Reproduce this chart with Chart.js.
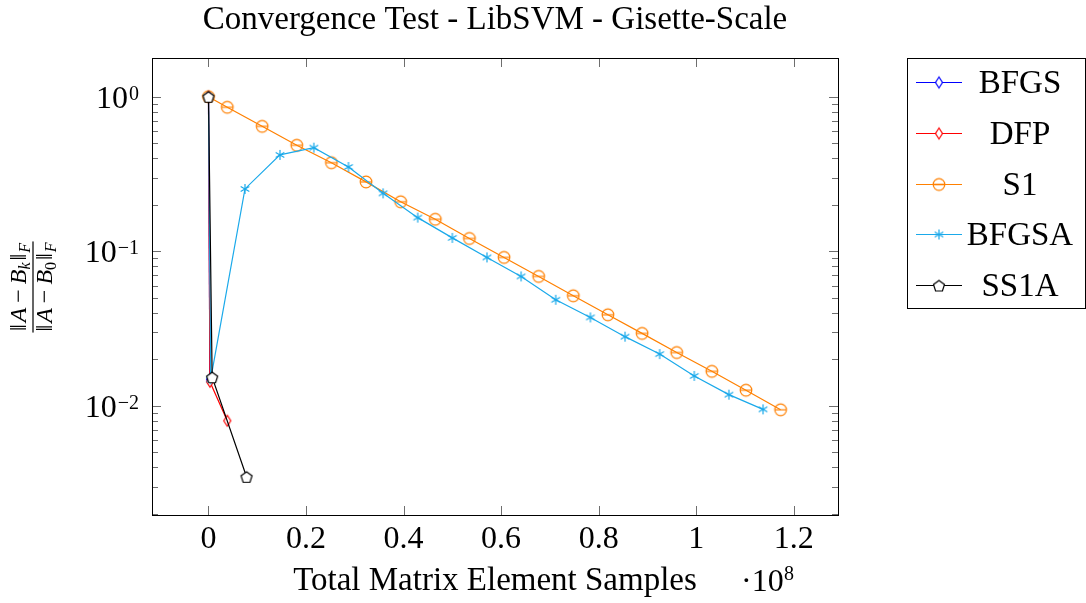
<!DOCTYPE html>
<html>
<head>
<meta charset="utf-8">
<script src="https://cdn.jsdelivr.net/npm/chart.js@4"></script>
<style>
html,body{margin:0;padding:0;background:#fff;}
#c{display:block;}
</style>
</head>
<body>
<canvas id="c" width="1086" height="603"></canvas>
<script>
// ---------- data (x in units of 1e8) ----------
const xTickValues = [0, 0.2, 0.4, 0.6, 0.8, 1, 1.2];
const xTickLabels = ['0', '0.2', '0.4', '0.6', '0.8', '1', '1.2'];
const yTickValues = [1, 0.1, 0.01];
const yTickExponents = ['0', '\u22121', '\u22122'];

const seriesNames = ['BFGS', 'DFP', 'S1', 'BFGSA', 'SS1A'];

const bfgsX = [0, 0.003];
const bfgsY = [1, 0.0148];

const dfpX = [0, 0.003, 0.0385];
const dfpY = [1, 0.0143, 0.0080];

const s1X = [0, 0.0385, 0.110, 0.181, 0.252, 0.323, 0.394, 0.465, 0.535, 0.606, 0.677, 0.748, 0.819, 0.889, 0.960, 1.032, 1.102, 1.173];
const s1Y = [1, 0.854, 0.643, 0.485, 0.374, 0.281, 0.209, 0.161, 0.121, 0.0912, 0.0687, 0.0515, 0.0388, 0.0294, 0.0221, 0.0167, 0.0126, 0.00942];

const bfgsaX = [0, 0.0045, 0.0748, 0.1466, 0.216, 0.287, 0.358, 0.429, 0.500, 0.571, 0.641, 0.712, 0.783, 0.854, 0.925, 0.996, 1.067, 1.137];
const bfgsaY = [1, 0.0148, 0.253, 0.420, 0.468, 0.351, 0.237, 0.165, 0.122, 0.0912, 0.0687, 0.0485, 0.0373, 0.0280, 0.0216, 0.0156, 0.0118, 0.00948];

const ss1aX = [0, 0.0075, 0.078];
const ss1aY = [1, 0.0153, 0.00347];

// ---------- styles ----------
const FONT = '"Liberation Serif", "Times New Roman", serif';
const COLORS = { BFGS: '#0000ff', DFP: '#ff0000', S1: '#ff8000', BFGSA: '#1aa9ea', SS1A: '#000000' };

function makeMark(kind, color) {
  const c = document.createElement('canvas');
  const s = 16;
  c.width = s; c.height = s;
  const g = c.getContext('2d');
  g.strokeStyle = color;
  g.lineWidth = 1.2;
  const m = s / 2;
  g.beginPath();
  if (kind === 'diamond') {
    g.moveTo(m, m - 5.5); g.lineTo(m + 3.5, m); g.lineTo(m, m + 5.5); g.lineTo(m - 3.5, m); g.closePath();
    g.fillStyle = '#fff'; g.fill(); g.stroke();
  } else if (kind === 'circle') {
    g.arc(m, m, 5.8, 0, Math.PI * 2);
    g.stroke();
    g.beginPath(); g.moveTo(m - 5.8, m); g.lineTo(m + 5.8, m); g.stroke();
  } else if (kind === 'star') {
    for (let k = 0; k < 3; k++) {
      const a = Math.PI / 2 + k * Math.PI * 2 / 3;
      g.moveTo(m + 5 * Math.cos(a), m - 5 * Math.sin(a));
      g.lineTo(m - 5 * Math.cos(a), m + 5 * Math.sin(a));
    }
    g.stroke();
  } else if (kind === 'pentagon') {
    for (let k = 0; k < 5; k++) {
      const a = Math.PI / 2 + k * Math.PI * 2 / 5;
      const px = m + 5.8 * Math.cos(a), py = m + 0.8 - 5.8 * Math.sin(a);
      if (k === 0) g.moveTo(px, py); else g.lineTo(px, py);
    }
    g.closePath();
    g.fillStyle = '#fff'; g.fill(); g.stroke();
  }
  return c;
}

const MARKS = {
  BFGS: makeMark('diamond', COLORS.BFGS),
  DFP: makeMark('diamond', COLORS.DFP),
  S1: makeMark('circle', COLORS.S1),
  BFGSA: makeMark('star', COLORS.BFGSA),
  SS1A: makeMark('pentagon', COLORS.SS1A)
};

function pts(xs, ys) { return xs.map((x, i) => ({ x: x, y: ys[i] })); }
const seriesData = { BFGS: pts(bfgsX, bfgsY), DFP: pts(dfpX, dfpY), S1: pts(s1X, s1Y), BFGSA: pts(bfgsaX, bfgsaY), SS1A: pts(ss1aX, ss1aY) };

const datasets = seriesNames.map((name, i) => ({
  label: name,
  data: seriesData[name],
  showLine: true,
  borderColor: COLORS[name],
  backgroundColor: COLORS[name],
  borderWidth: 1.2,
  pointStyle: MARKS[name],
  pointRadius: 6,
  pointHoverRadius: 6,
  tension: 0,
  order: seriesNames.length - i
}));

// ---------- helpers ----------
function drawRich(ctx, pieces, cx, baseline) {
  let total = 0;
  pieces.forEach(p => {
    ctx.font = (p.italic ? 'italic ' : '') + p.size + 'px ' + FONT;
    p.w = ctx.measureText(p.t).width + (p.padL || 0) + (p.padR || 0);
    total += p.w;
  });
  let x = cx - total / 2;
  ctx.textAlign = 'left';
  ctx.textBaseline = 'alphabetic';
  pieces.forEach(p => {
    ctx.font = (p.italic ? 'italic ' : '') + p.size + 'px ' + FONT;
    ctx.fillText(p.t, x + (p.padL || 0), baseline + (p.dy || 0));
    x += p.w;
  });
  return total;
}

const decorPlugin = {
  id: 'decor',
  afterDraw(chart) {
    const ctx = chart.ctx;
    const a = chart.chartArea;
    const xs = chart.scales.x, ys = chart.scales.y;
    ctx.save();

    // ticks
    ctx.strokeStyle = '#6e6e6e';
    ctx.lineWidth = 1;
    const major = 9, minor = 6;
    ctx.beginPath();
    xTickValues.forEach(v => {
      const px = Math.round(xs.getPixelForValue(v)) + 0.5;
      ctx.moveTo(px, a.bottom); ctx.lineTo(px, a.bottom - major);
      ctx.moveTo(px, a.top); ctx.lineTo(px, a.top + major);
    });
    for (let e = -3; e <= 0; e++) {
      for (let k = 1; k <= 9; k++) {
        const v = k * Math.pow(10, e);
        const py = ys.getPixelForValue(v);
        if (py < a.top || py > a.bottom) continue;
        const len = k === 1 ? major : minor;
        const y = Math.round(py) + 0.5;
        ctx.moveTo(a.left, y); ctx.lineTo(a.left + len, y);
        ctx.moveTo(a.right, y); ctx.lineTo(a.right - len, y);
      }
    }
    ctx.stroke();

    // frame
    ctx.strokeStyle = '#000';
    ctx.lineWidth = 1;
    ctx.strokeRect(Math.round(a.left) + 0.5, Math.round(a.top) + 0.5, Math.round(a.right - a.left), Math.round(a.bottom - a.top));

    // y tick labels 10^e
    ctx.fillStyle = '#000';
    yTickValues.forEach((v, i) => {
      const py = ys.getPixelForValue(v);
      ctx.font = '20px ' + FONT;
      const ew = ctx.measureText(yTickExponents[i]).width;
      const right = 139;
      ctx.textAlign = 'right';
      ctx.textBaseline = 'alphabetic';
      ctx.fillText(yTickExponents[i], right, py + 3);
      ctx.font = '32px ' + FONT;
      ctx.fillText('10', right - ew - 1, py + 11);
    });

    // title
    ctx.textAlign = 'center';
    ctx.textBaseline = 'alphabetic';
    ctx.font = '33px ' + FONT;
    ctx.fillText('Convergence Test - LibSVM - Gisette-Scale', (a.left + a.right) / 2, 29);

    // x axis title
    ctx.fillText('Total Matrix Element Samples', (a.left + a.right) / 2, 590);
    ctx.textAlign = 'left';
    ctx.font = '32px ' + FONT;
    ctx.fillText('\u00b710', 741, 591);
    ctx.font = '20px ' + FONT;
    ctx.fillText('8', 784, 580);

    // y axis title (fraction), rotated
    ctx.save();
    ctx.translate(33, 287);
    ctx.rotate(-Math.PI / 2);
    const mk = (sub, subItalic) => [
      { t: '\u2016', size: 24, padR: 2 }, { t: 'A', size: 24, italic: true },
      { t: '\u2212', size: 24, padL: 5, padR: 5 },
      { t: 'B', size: 24, italic: true }, { t: sub, size: 16, italic: subItalic, dy: 4, padR: 2 },
      { t: '\u2016', size: 24, padR: 1 }, { t: 'F', size: 16, italic: true, dy: 4 }
    ];
    const w1 = drawRich(ctx, mk('k', true), 0, -7);
    const w2 = drawRich(ctx, mk('0', false), 0, 19);
    const bw = Math.max(w1, w2) + 2;
    ctx.fillRect(-bw / 2, -0.6, bw, 1.2);
    ctx.restore();

    // legend
    const L = { left: 907, top: 58, right: 1085, bottom: 308 };
    ctx.strokeStyle = '#000';
    ctx.lineWidth = 1;
    ctx.strokeRect(L.left + 0.5, L.top + 0.5, L.right - L.left, L.bottom - L.top);
    const rowH = 50.8;
    chart.data.datasets.forEach((ds, i) => {
      const y = Math.round(82 + i * rowH);
      ctx.strokeStyle = ds.borderColor;
      ctx.lineWidth = 1.2;
      ctx.beginPath();
      ctx.moveTo(916, y + 0.5); ctx.lineTo(962, y + 0.5);
      ctx.stroke();
      const m = ds.pointStyle;
      ctx.drawImage(m, 939 - m.width / 2, y + 0.5 - m.height / 2);
      ctx.fillStyle = '#000';
      ctx.font = '33px ' + FONT;
      ctx.textAlign = 'center';
      ctx.textBaseline = 'alphabetic';
      ctx.fillText(ds.label, 1020, y + 11);
    });

    ctx.restore();
  }
};

new Chart(document.getElementById('c'), {
  type: 'scatter',
  data: { datasets: datasets },
  plugins: [decorPlugin],
  options: {
    responsive: false,
    animation: false,
    events: [],
    layout: { padding: { left: 152, top: 58, right: 248, bottom: 0 } },
    plugins: { legend: { display: false }, title: { display: false }, tooltip: { enabled: false } },
    scales: {
      x: {
        type: 'linear',
        min: -0.1158,
        max: 1.2907,
        grid: { display: false, drawTicks: false },
        border: { display: false },
        afterBuildTicks: s => { s.ticks = xTickValues.map(v => ({ value: v })); },
        afterFit: s => { s.height = 88; },
        ticks: {
          color: '#000',
          padding: 5,
          maxRotation: 0,
          autoSkip: false,
          font: { family: FONT, size: 32 },
          callback: (v) => { const i = xTickValues.indexOf(v); return i >= 0 ? xTickLabels[i] : ''; }
        }
      },
      y: {
        type: 'logarithmic',
        display: false,
        min: Math.pow(10, -2.707),
        max: Math.pow(10, 0.2505),
        afterBuildTicks: s => { s.ticks = yTickValues.map(v => ({ value: v })); }
      }
    }
  }
});
</script>
</body>
</html>
